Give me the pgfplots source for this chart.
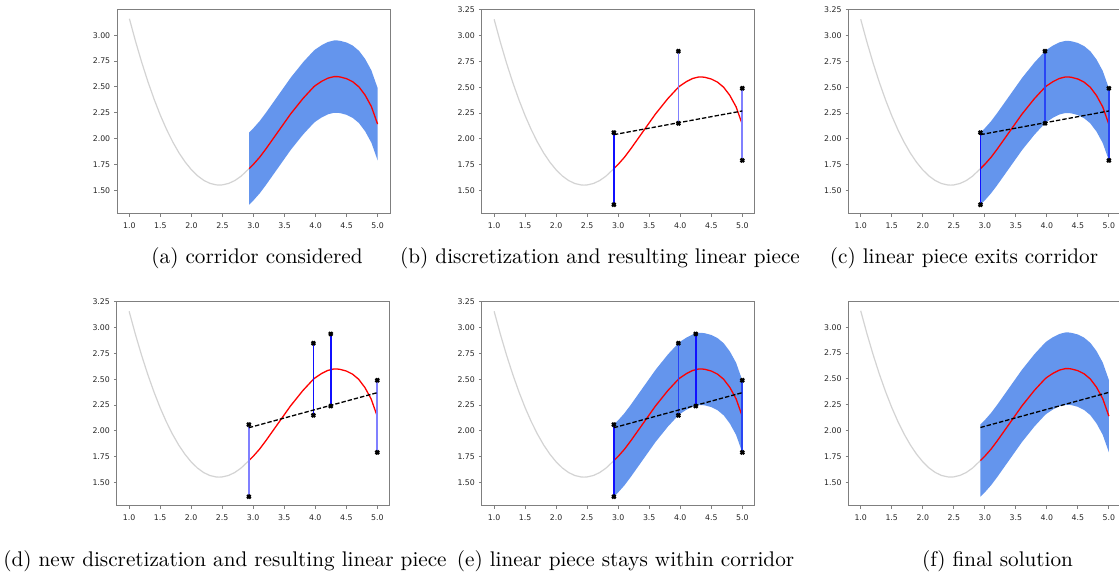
\documentclass[border=0pt]{standalone}
\usepackage{fontspec}
\usepackage{pgfplots}
\usepackage{pgfplotstable}
\pgfplotsset{compat=1.18}
\newfontfamily\tickfont{DejaVu Sans}
\definecolor{corridor}{HTML}{6495ED}
\definecolor{curvegray}{HTML}{D3D3D3}
\definecolor{spine}{HTML}{7F7F7F}
\definecolor{segblue}{HTML}{1010FF}
\definecolor{seglight}{HTML}{8080FF}
\definecolor{segmid}{HTML}{2A45F4}

% curve before the corridor
\pgfplotstableread{
x y
1.00 3.160
1.10 2.939
1.20 2.735
1.30 2.548
1.40 2.378
1.50 2.224
1.60 2.087
1.70 1.966
1.80 1.861
1.90 1.772
2.00 1.698
2.10 1.639
2.20 1.595
2.30 1.566
2.40 1.552
2.45 1.550
2.50 1.552
2.60 1.566
2.70 1.594
2.80 1.636
2.93 1.710
}\graydata

% curve inside the corridor
\pgfplotstableread{
x f
2.93 1.710
3.00 1.752
3.10 1.820
3.20 1.900
3.30 1.985
3.40 2.070
3.50 2.155
3.60 2.240
3.70 2.315
3.80 2.390
3.90 2.455
3.97 2.500
4.00 2.515
4.10 2.555
4.20 2.585
4.25 2.593
4.30 2.600
4.35 2.600
4.40 2.596
4.50 2.580
4.60 2.550
4.70 2.500
4.80 2.420
4.90 2.310
5.00 2.140
}\reddata

% corridor outline: upper bound left to right, lower bound right to left
\pgfplotstableread{
x y
2.93 2.060
3.00 2.102
3.10 2.170
3.20 2.250
3.30 2.335
3.40 2.420
3.50 2.505
3.60 2.590
3.70 2.665
3.80 2.740
3.90 2.805
3.97 2.850
4.00 2.865
4.10 2.905
4.20 2.935
4.25 2.943
4.30 2.950
4.35 2.950
4.40 2.946
4.50 2.930
4.60 2.900
4.70 2.850
4.80 2.770
4.90 2.660
5.00 2.490
5.00 1.790
4.90 1.960
4.80 2.070
4.70 2.150
4.60 2.200
4.50 2.230
4.40 2.246
4.35 2.250
4.30 2.250
4.25 2.243
4.20 2.235
4.10 2.205
4.00 2.165
3.97 2.150
3.90 2.105
3.80 2.040
3.70 1.965
3.60 1.890
3.50 1.805
3.40 1.720
3.30 1.635
3.20 1.550
3.10 1.470
3.00 1.402
2.93 1.360
}\corridordata

% discretization points (lower and upper corridor values)
\pgfplotstableread{
x lo hi
2.93 1.36 2.06
3.97 2.15 2.85
5.00 1.79 2.49
}\discA
\pgfplotstableread{
x lo hi
2.93 1.36 2.06
3.97 2.15 2.85
4.25 2.24 2.94
5.00 1.79 2.49
}\discB

% linear pieces
\pgfplotstableread{
x y
2.93 2.04
5.00 2.27
}\pieceA
\pgfplotstableread{
x y
2.93 2.03
5.00 2.37
}\pieceB

\pgfplotsset{
  panel/.style={
    scale only axis, width=136.5pt, height=102pt, anchor=north west,
    xmin=0.8, xmax=5.2, ymin=1.27, ymax=3.25,
    xtick={1,1.5,...,5}, ytick={1.5,1.75,...,3.25},
    axis line style={spine, line width=0.5pt},
    tick style={spine, line width=0.5pt},
    tick align=outside, major tick length=1.4pt, tick pos=left,
    ticklabel style={font=\tickfont\fontsize{3.9}{4.5}\selectfont, text=black!85, inner sep=0pt},
    xticklabel style={/pgf/number format/fixed, /pgf/number format/fixed zerofill,
      /pgf/number format/precision=1, /pgf/number format/assume math mode=true, yshift=-2.6pt},
    yticklabel style={/pgf/number format/fixed, /pgf/number format/fixed zerofill,
      /pgf/number format/precision=2, /pgf/number format/assume math mode=true, xshift=-1.8pt},
    unbounded coords=jump,
  },
  grayc/.style={color=curvegray, line width=0.6pt},
  redc/.style={color=red, line width=0.65pt},
  seg/.style={color=segblue, line width=0.8pt},
  segl/.style={color=seglight, line width=0.8pt},
  segm/.style={color=segmid, line width=0.8pt},
  piece/.style={color=black, line width=0.65pt, dash pattern=on 2.2pt off 1pt},
  pts/.style={only marks, color=black, mark=x, mark size=1.25pt, mark options={line width=1.15pt}},
}

\begin{document}
\begin{tikzpicture}

% (a)
\begin{axis}[panel, at={(58.5pt,281pt)}, ymax=3.245]
  \addplot[grayc] table[x=x, y=y] {\graydata};
  \addplot[fill=corridor, draw=none] table[x=x, y=y] {\corridordata} -- cycle;
  \addplot[redc] table[x=x, y=f] {\reddata};
\end{axis}

% (b)
\begin{axis}[panel, at={(240.85pt,281pt)}]
  \addplot[grayc] table[x=x, y=y] {\graydata};
  \addplot[redc] table[x=x, y=f] {\reddata};
  \addplot[segl] coordinates {(3.97,2.15) (3.97,2.85) (nan,nan) (5.00,1.79) (5.00,2.49)};
  \addplot[seg] coordinates {(2.93,1.36) (2.93,2.06)};
  \addplot[piece] table[x=x, y=y] {\pieceA};
  \addplot[pts] table[x=x, y=lo] {\discA};
  \addplot[pts] table[x=x, y=hi] {\discA};
\end{axis}

% (c)
\begin{axis}[panel, at={(424.15pt,281pt)}]
  \addplot[grayc] table[x=x, y=y] {\graydata};
  \addplot[fill=corridor, draw=none] table[x=x, y=y] {\corridordata} -- cycle;
  \addplot[redc] table[x=x, y=f] {\reddata};
  \addplot[segm] coordinates {(3.97,2.15) (3.97,2.85) (nan,nan) (5.00,1.79) (5.00,2.49)};
  \addplot[seg] coordinates {(2.93,1.36) (2.93,2.06)};
  \addplot[piece] table[x=x, y=y] {\pieceA};
  \addplot[pts] table[x=x, y=lo] {\discA};
  \addplot[pts] table[x=x, y=hi] {\discA};
\end{axis}

% (d)
\begin{axis}[panel, at={(58.35pt,135pt)}]
  \addplot[grayc] table[x=x, y=y] {\graydata};
  \addplot[redc] table[x=x, y=f] {\reddata};
  \addplot[segl] coordinates {(2.93,1.36) (2.93,2.06) (nan,nan) (5.00,1.79) (5.00,2.49)};
  \addplot[seg] coordinates {(3.97,2.15) (3.97,2.85) (nan,nan) (4.25,2.24) (4.25,2.94)};
  \addplot[piece] table[x=x, y=y] {\pieceB};
  \addplot[pts] table[x=x, y=lo] {\discB};
  \addplot[pts] table[x=x, y=hi] {\discB};
\end{axis}

% (e)
\begin{axis}[panel, at={(240.85pt,135pt)}]
  \addplot[grayc] table[x=x, y=y] {\graydata};
  \addplot[fill=corridor, draw=none] table[x=x, y=y] {\corridordata} -- cycle;
  \addplot[redc] table[x=x, y=f] {\reddata};
  \addplot[segm] coordinates {(3.97,2.15) (3.97,2.85) (nan,nan) (5.00,1.79) (5.00,2.49)};
  \addplot[seg] coordinates {(2.93,1.36) (2.93,2.06) (nan,nan) (4.25,2.24) (4.25,2.94)};
  \addplot[piece] table[x=x, y=y] {\pieceB};
  \addplot[pts] table[x=x, y=lo] {\discB};
  \addplot[pts] table[x=x, y=hi] {\discB};
\end{axis}

% (f)
\begin{axis}[panel, at={(424.15pt,135pt)}, ymax=3.245]
  \addplot[grayc] table[x=x, y=y] {\graydata};
  \addplot[fill=corridor, draw=none] table[x=x, y=y] {\corridordata} -- cycle;
  \addplot[redc] table[x=x, y=f] {\reddata};
  \addplot[piece] table[x=x, y=y] {\pieceB};
\end{axis}

\begin{scope}[every node/.style={anchor=base, inner sep=0pt, font=\fontsize{10.6}{12.7}\selectfont}]
  \node at (128.5pt,154pt) {(a) corridor considered};
  \node at (300pt,154pt) {(b) discretization and resulting linear piece};
  \node at (482pt,154pt) {(c) linear piece exits corridor};
  \node at (112.5pt,2.5pt) {(d) new discretization and resulting linear piece};
  \node at (312.75pt,2.5pt) {(e) linear piece stays within corridor};
  \node at (498.75pt,2.5pt) {(f) final solution};
\end{scope}

\pgfresetboundingbox
\path[use as bounding box] (0,0) rectangle (559.5pt,286pt);
\end{tikzpicture}
\end{document}
